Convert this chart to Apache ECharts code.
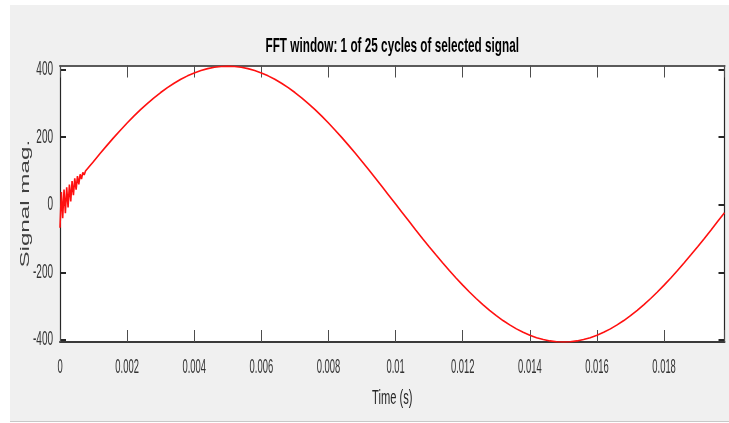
<!DOCTYPE html>
<html>
<head>
<meta charset="utf-8">
<script src="https://cdn.jsdelivr.net/npm/echarts@6/dist/echarts.min.js"></script>
<style>html,body{margin:0;padding:0;background:#fff}#c{width:729px;height:423px}</style>
</head>
<body>
<div id="c"></div>
<script>
// Chart text
var titleText = "FFT window: 1 of 25 cycles of selected signal";
var xName = "Time (s)";
var yName = "Signal mag.";

// Tick values
var xTicks = [0, 0.002, 0.004, 0.006, 0.008, 0.01, 0.012, 0.014, 0.016, 0.018];
var yTicks = [-400, -200, 0, 200, 400];

// Samples: start-up ripple (every 0.00004 s)
var tStart = [0, 0.00004, 0.00008, 0.00012, 0.00016, 0.0002, 0.00024, 0.00028, 0.00032, 0.00036,
  0.0004, 0.00044, 0.00048, 0.00052, 0.00056, 0.0006, 0.00064, 0.00068, 0.00072, 0.00076, 0.0008];
var vStart = [-68, 38, -40, 45, -25, 52, -8, 60, 10, 70,
  28, 78, 45, 85, 60, 90, 76, 96, 88, 100, 103.5];

// Samples: remaining cycle (every 0.0002 s from 0.001 s)
var tMain = [0.001, 0.0012, 0.0014, 0.0016, 0.0018, 0.002, 0.0022, 0.0024, 0.0026, 0.0028,
  0.003, 0.0032, 0.0034, 0.0036, 0.0038, 0.004, 0.0042, 0.0044, 0.0046, 0.0048,
  0.005, 0.0052, 0.0054, 0.0056, 0.0058, 0.006, 0.0062, 0.0064, 0.0066, 0.0068,
  0.007, 0.0072, 0.0074, 0.0076, 0.0078, 0.008, 0.0082, 0.0084, 0.0086, 0.0088,
  0.009, 0.0092, 0.0094, 0.0096, 0.0098, 0.01, 0.0102, 0.0104, 0.0106, 0.0108,
  0.011, 0.0112, 0.0114, 0.0116, 0.0118, 0.012, 0.0122, 0.0124, 0.0126, 0.0128,
  0.013, 0.0132, 0.0134, 0.0136, 0.0138, 0.014, 0.0142, 0.0144, 0.0146, 0.0148,
  0.015, 0.0152, 0.0154, 0.0156, 0.0158, 0.016, 0.0162, 0.0164, 0.0166, 0.0168,
  0.017, 0.0172, 0.0174, 0.0176, 0.0178, 0.018, 0.0182, 0.0184, 0.0186, 0.0188,
  0.019, 0.0192, 0.0194, 0.0196, 0.0198];
var vMain = [128.1, 152.2, 175.7, 198.6, 220.6, 241.8, 262.1, 281.3, 299.4, 316.4,
  332.1, 346.5, 359.5, 371.2, 381.4, 390, 397.2, 402.8, 406.8, 409.2,
  410, 409.2, 406.8, 402.8, 397.2, 390, 381.4, 371.2, 359.5, 346.5,
  332.1, 316.4, 299.4, 281.3, 262.1, 241.8, 220.6, 198.6, 175.7, 152.2,
  128.1, 103.5, 78.5, 53.1, 27.6, 2, -23.6, -49.1, -74.5, -99.5,
  -124.1, -148.2, -171.7, -194.6, -216.6, -237.8, -258.1, -277.3, -295.4, -312.4,
  -328.1, -342.5, -355.5, -367.2, -377.4, -386, -393.2, -398.8, -402.8, -405.2,
  -406, -405.2, -402.8, -398.8, -393.2, -386, -377.4, -367.2, -355.5, -342.5,
  -328.1, -312.4, -295.4, -277.3, -258.1, -237.8, -216.6, -194.6, -171.7, -148.2,
  -124.1, -99.5, -74.5, -49.1, -23.6];

var xMin = 0, xMax = 0.0198, yMin = -406, yMax = 412;

var pts = [];
tStart.forEach(function (t, i) { pts.push([t, vStart[i]]); });
tMain.forEach(function (t, i) { pts.push([t, vMain[i]]); });

var SANS = '"Liberation Sans", Arial, Helvetica, sans-serif';
function fmtX(v) { return String(Number(v.toFixed(4))); }

var chart = echarts.init(document.getElementById('c'), null, { renderer: 'canvas' });
var boxXB = { show: true, onZero: false, lineStyle: { color: '#3a3a3a', width: 2 } };
var boxXT = { show: true, onZero: false, lineStyle: { color: '#5a5a5a', width: 2 } };
var boxY = { show: true, onZero: false, lineStyle: { color: '#262626', width: 1.2 } };
var xTickStyle = { show: true, inside: true, length: 12, lineStyle: { color: '#4d4d4d', width: 1 } };
var yTickStyle = { show: true, inside: true, length: 6, customValues: yTicks, lineStyle: { color: '#262626', width: 2 } };

chart.setOption({
  animation: false,
  backgroundColor: '#ffffff',
  grid: { left: 60, right: 4.5, top: 65.5, bottom: 81, show: true, backgroundColor: '#ffffff', borderWidth: 0 },
  xAxis: [{
    type: 'value', position: 'bottom', min: xMin, max: xMax, interval: 0.002,
    axisLine: boxXB, axisTick: xTickStyle,
    axisLabel: { show: false }, splitLine: { show: false }
  }, {
    type: 'value', position: 'top', min: xMin, max: xMax, interval: 0.002,
    axisLine: boxXT, axisTick: xTickStyle,
    axisLabel: { show: false }, splitLine: { show: false }
  }],
  yAxis: [{
    type: 'value', position: 'left', min: yMin, max: yMax,
    axisLine: boxY, axisTick: yTickStyle,
    axisLabel: { show: false }, splitLine: { show: false }
  }, {
    type: 'value', position: 'right', min: yMin, max: yMax,
    axisLine: boxY, axisTick: yTickStyle,
    axisLabel: { show: false }, splitLine: { show: false }
  }],
  series: [{
    type: 'line', xAxisIndex: 0, yAxisIndex: 0, data: pts, showSymbol: false, symbol: 'none',
    lineStyle: { color: '#ff1010', width: 1.6 }, clip: true
  }]
});

// Text is drawn tall and narrow like the reference; tick label positions come from the axes' own scales.
var g = [
  { type: 'rect', z: -10, silent: true, shape: { x: 10, y: 5, width: 719, height: 416 }, style: { fill: '#f0f0f0' } },
  { type: 'rect', z: -10, silent: true, shape: { x: 10, y: 421, width: 719, height: 1 }, style: { fill: '#c8c8c8' } }
];
function txt(text, x, y, opt) {
  return {
    type: 'text', silent: true, z: 10, x: x, y: y,
    rotation: opt.rotation || 0, scaleX: opt.scaleX || 1, scaleY: 1,
    style: {
      text: text, fill: opt.color || '#333333',
      font: (opt.weight || 'normal') + ' ' + opt.size + 'px ' + SANS,
      textAlign: opt.align || 'center', textVerticalAlign: 'middle'
    }
  };
}
var gridTop = chart.convertToPixel({ yAxisIndex: 0 }, yMax);
var gridBottom = chart.convertToPixel({ yAxisIndex: 0 }, yMin);
var xLeft = chart.convertToPixel({ xAxisIndex: 0 }, xMin);
var xRight = chart.convertToPixel({ xAxisIndex: 0 }, xMax);
xTicks.forEach(function (v) {
  g.push(txt(fmtX(v), chart.convertToPixel({ xAxisIndex: 0 }, v), gridBottom + 25, { size: 20, scaleX: 0.47 }));
});
yTicks.forEach(function (v) {
  g.push(txt(String(v), xLeft - 7, chart.convertToPixel({ yAxisIndex: 0 }, v), { size: 20, scaleX: 0.5, align: 'right' }));
});
var midX = (xLeft + xRight) / 2;
g.push(txt(titleText, midX, gridTop - 19, { size: 21, scaleX: 0.56, weight: 'bold', color: '#000000' }));
g.push(txt(xName, midX, gridBottom + 56, { size: 21, scaleX: 0.53, color: '#262626' }));
g.push(txt(yName, 25, (gridTop + gridBottom) / 2, { size: 13, scaleX: 1.86, rotation: Math.PI / 2, color: '#404040' }));
chart.setOption({ graphic: g });
</script>
</body>
</html>
